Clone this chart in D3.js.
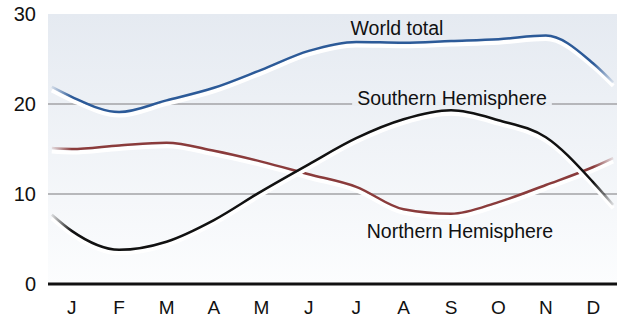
<!DOCTYPE html>
<html lang="en">
<head>
    <meta charset="UTF-8">
    <title>Seasonal totals by hemisphere</title>
    <script src="https://d3js.org/d3.v7.min.js"></script>
    <style>
        body { margin: 0; background: #fff; font-family: "Liberation Sans", Arial, sans-serif; }
        svg { display: block; }
        .tick-label { font-size: 20px; fill: #111; }
        .month { font-size: 19px; fill: #111; }
        .series-label { font-size: 19.5px; fill: #111; }
    </style>
</head>
<body>
    <svg id="chart" width="618" height="319"></svg>

    <script>
        const months = ["J", "F", "M", "A", "M", "J", "J", "A", "S", "O", "N", "D"];
        const yTicks = [0, 10, 20, 30];
        const gridValues = [10, 20];

        // first/last value sit near the plot edges (just outside J and D)
        const worldTotal = [21.9, 20.8, 19.1, 20.4, 21.8, 23.8, 25.9, 26.9, 26.8, 27.0, 27.2, 27.6, 24.5, 22.4];
        const northern   = [15.1, 15.0, 15.4, 15.7, 14.8, 13.6, 12.2, 10.8, 8.3, 7.8, 9.1, 11.0, 13.0, 14.0];
        const southern   = [7.7, 5.9, 3.8, 4.7, 7.1, 10.3, 13.3, 16.2, 18.3, 19.3, 18.2, 16.3, 11.3, 8.8];

        const seriesList = [
            { name: "World total", values: worldTotal, color: "#2c5a98", label: { x: 397, y: 35 } },
            { name: "Northern Hemisphere", values: northern, color: "#8a3b3b", label: { x: 460, y: 238 } },
            { name: "Southern Hemisphere", values: southern, color: "#111111", label: { x: 452, y: 105 } }
        ];

        const svg = d3.select("#chart");
        const plotLeft = 48, plotRight = 617, plotTop = 14, plotBottom = 284;

        const x = d3.scaleLinear().domain([-0.5, 11.5]).range([plotLeft, plotRight]);
        const y = d3.scaleLinear().domain([0, 30]).range([plotBottom, plotTop]);
        // data index -> month position; the end points stop a little short of the frame
        const xIndex = (i, n) => i === 0 ? -0.42 : i === n - 1 ? 11.42 : i - 1;

        const defs = svg.append("defs");
        const bg = defs.append("linearGradient").attr("id", "bg")
            .attr("x1", 0).attr("y1", 0).attr("x2", 0).attr("y2", 1);
        bg.append("stop").attr("offset", "0%").attr("stop-color", "#e5eaf1");
        bg.append("stop").attr("offset", "100%").attr("stop-color", "#fcfdfe");

        svg.append("rect")
            .attr("x", plotLeft).attr("y", plotTop)
            .attr("width", plotRight - plotLeft).attr("height", plotBottom - plotTop)
            .attr("fill", "url(#bg)");

        // grid lines
        svg.selectAll(".grid")
            .data(gridValues)
            .enter().append("line")
            .attr("class", "grid")
            .attr("x1", plotLeft).attr("x2", plotRight)
            .attr("y1", d => y(d)).attr("y2", d => y(d))
            .attr("stroke", "#a3a3a6").attr("stroke-width", 1.6);

        // y tick labels
        svg.selectAll(".tick-label")
            .data(yTicks)
            .enter().append("text")
            .attr("class", "tick-label")
            .attr("x", 36)
            .attr("y", d => y(d) + 7)
            .attr("text-anchor", "end")
            .text(d => d);

        // month labels
        svg.selectAll(".month")
            .data(months)
            .enter().append("text")
            .attr("class", "month")
            .attr("x", (d, i) => x(i))
            .attr("y", 314)
            .attr("text-anchor", "middle")
            .text(d => d);

        seriesList.forEach((s, k) => {
            const n = s.values.length;
            const line = d3.line()
                .x((d, i) => x(xIndex(i, n)))
                .y(d => y(d))
                .curve(d3.curveMonotoneX);

            const id = "fade" + k;
            const g = defs.append("linearGradient").attr("id", id)
                .attr("gradientUnits", "userSpaceOnUse")
                .attr("x1", x(-0.42)).attr("x2", x(11.42)).attr("y1", 0).attr("y2", 0);
            const edge = (x(0) - x(-0.42)) / (x(11.42) - x(-0.42));
            g.append("stop").attr("offset", 0).attr("stop-color", s.color).attr("stop-opacity", 0.12);
            g.append("stop").attr("offset", edge).attr("stop-color", s.color).attr("stop-opacity", 1);
            g.append("stop").attr("offset", 1 - edge).attr("stop-color", s.color).attr("stop-opacity", 1);
            g.append("stop").attr("offset", 1).attr("stop-color", s.color).attr("stop-opacity", 0.12);

            // white shadow beneath
            svg.append("path")
                .datum(s.values)
                .attr("d", line)
                .attr("transform", "translate(0,3.5)")
                .attr("fill", "none")
                .attr("stroke", "#fff")
                .attr("stroke-width", 4);

            svg.append("path")
                .datum(s.values)
                .attr("d", line)
                .attr("fill", "none")
                .attr("stroke", `url(#${id})`)
                .attr("stroke-width", 2.5);
        });

        // zero axis
        svg.append("line")
            .attr("x1", plotLeft).attr("x2", plotRight)
            .attr("y1", y(0)).attr("y2", y(0))
            .attr("stroke", "#111").attr("stroke-width", 3.2);

        // series labels (Southern one masks the grid line)
        seriesList.forEach(s => {
            const t = svg.append("text")
                .attr("class", "series-label")
                .attr("x", s.label.x).attr("y", s.label.y)
                .attr("text-anchor", "middle")
                .text(s.name);
            if (s.name === "Southern Hemisphere") {
                const b = t.node().getBBox();
                svg.insert("rect", () => t.node())
                    .attr("x", b.x - 5).attr("y", y(20) - 2)
                    .attr("width", b.width + 10).attr("height", 4)
                    .attr("fill", "#eaeef3");
            }
        });
    </script>
</body>
</html>
